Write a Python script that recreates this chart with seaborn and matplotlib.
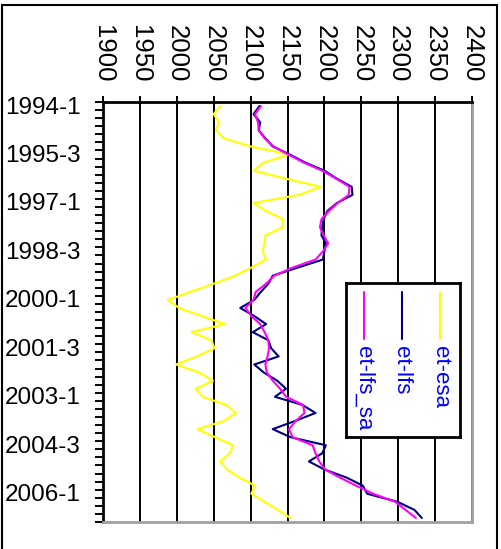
import numpy as np
import pandas as pd
import matplotlib
matplotlib.use("Agg")
import matplotlib.pyplot as plt
import matplotlib.transforms as mtransforms
from matplotlib.patches import Rectangle
import seaborn as sns

# Datos trimestrales 1994-1 .. 2006-4 (52 trimestres)
et_esa = [2059, 2050, 2057, 2053, 2064, 2100, 2152, 2118, 2104, 2148,
          2195, 2166, 2104, 2121, 2144, 2144, 2120, 2119, 2116, 2121,
          2101, 2079, 2050, 2019, 1988, 2003, 2034, 2065, 2020, 2047,
          2051, 2027, 1999, 2030, 2049, 2026, 2035, 2067, 2080, 2064,
          2028, 2052, 2076, 2072, 2059, 2068, 2085, 2106, 2101, 2119,
          2137, 2154]
et_lfs = [2112, 2104, 2113, 2111, 2120, 2130, 2153, 2174, 2200, 2217,
          2237, 2238, 2217, 2204, 2199, 2197, 2196, 2202, 2200, 2198,
          2164, 2130, 2124, 2114, 2105, 2086, 2105, 2121, 2103, 2124,
          2128, 2138, 2105, 2118, 2136, 2148, 2133, 2170, 2188, 2160,
          2130, 2154, 2202, 2197, 2179, 2200, 2230, 2252, 2258, 2299,
          2322, 2332]
et_lfs_sa = [2114, 2106, 2110, 2111, 2119, 2131, 2151, 2172, 2197, 2216,
             2234, 2233, 2218, 2206, 2196, 2194, 2199, 2205, 2198, 2188,
             2157, 2132, 2121, 2107, 2104, 2093, 2101, 2113, 2119, 2124,
             2125, 2123, 2120, 2122, 2130, 2140, 2148, 2171, 2173, 2161,
             2152, 2157, 2184, 2188, 2193, 2201, 2221, 2243, 2266, 2296,
             2310, 2324]

series_names = ["et-esa", "et-lfs", "et-lfs_sa"]
series_colors = ["#FFFF00", "#000080", "#FF00FF"]
quarters = [f"{y}-{q}" for y in range(1994, 2007) for q in range(1, 5)]
tick_labels = ["1994-1", "1995-3", "1997-1", "1998-3", "2000-1",
               "2001-3", "2003-1", "2004-3", "2006-1"]
value_ticks = [1900, 1950, 2000, 2050, 2100, 2150, 2200, 2250, 2300, 2350, 2400]

# Tabla larga para seaborn
df = pd.DataFrame({
    "quarter": quarters * 3,
    "value": et_esa + et_lfs + et_lfs_sa,
    "series": sum([[n] * len(quarters) for n in series_names], []),
})
df["pos"] = df["quarter"].map({q: i + 0.5 for i, q in enumerate(quarters)})

sns.set_style("white")
plt.rcParams["font.family"] = ["Liberation Sans", "DejaVu Sans"]

fig = plt.figure(figsize=(5.02, 5.49), dpi=100)
ax = fig.add_axes([103 / 502, 1 - 522 / 549, 369 / 502, 420 / 549])

sns.lineplot(data=df, x="value", y="pos", hue="series", hue_order=series_names,
             palette=series_colors, orient="y", sort=False, estimator=None,
             legend=False, lw=1.5, ax=ax)

ax.set_xlim(1900, 2400)
ax.set_ylim(len(quarters), 0)
ax.set_xlabel("")
ax.set_ylabel("")

# Eje de valores arriba, etiquetas giradas
ax.xaxis.tick_top()
ax.set_xticks(value_ticks)
ax.set_xticklabels([str(v) for v in value_ticks])
ax.tick_params(axis="x", which="major", direction="out", length=4, width=1.4,
               pad=10, labelsize=18.5, labelrotation=-90, colors="black")

# Eje de trimestres a la izquierda
ax.set_yticks(np.arange(0, 49, 6))
ax.set_yticklabels(tick_labels)
ax.set_yticks(np.arange(0, len(quarters) + 1), minor=True)
ax.tick_params(axis="y", which="both", direction="out", length=6, width=1.4,
               labelsize=17.5, pad=10, left=True, colors="black")
shift = mtransforms.ScaledTranslation(0, -3 / 100, fig.dpi_scale_trans)
for lab in ax.get_yticklabels():
    lab.set_transform(lab.get_transform() + shift)

ax.grid(axis="x", color="black", lw=1.4)
ax.set_axisbelow(True)
for side in ["top", "left"]:
    ax.spines[side].set_color("black")
    ax.spines[side].set_linewidth(2)
for side in ["right", "bottom"]:
    ax.spines[side].set_color("#a0a0a0")
    ax.spines[side].set_linewidth(2)

# Leyenda (girada)
lax = fig.add_axes([346 / 502, 1 - 437 / 549, 114 / 502, 154 / 549])
lax.set_xlim(0, 1)
lax.set_ylim(0, 1)
lax.set_xticks([])
lax.set_yticks([])
lax.set_facecolor("white")
for s in lax.spines.values():
    s.set_color("black")
    s.set_linewidth(2)
for xpos, name, color in zip([0.825, 0.489, 0.158], series_names, series_colors):
    lax.plot([xpos, xpos], [0.943, 0.634], color=color, lw=1.5)
    lax.text(xpos, 0.59, name, rotation=-90, ha="center", va="top",
             color="#0000FF", fontsize=16)

# Marco exterior
fig.add_artist(Rectangle((2 / 502, -0.01), 495 / 502, 1 - 5 / 549 + 0.01,
                         transform=fig.transFigure, fill=False,
                         ec="black", lw=1.5))

fig.savefig("out.png", dpi=100)
